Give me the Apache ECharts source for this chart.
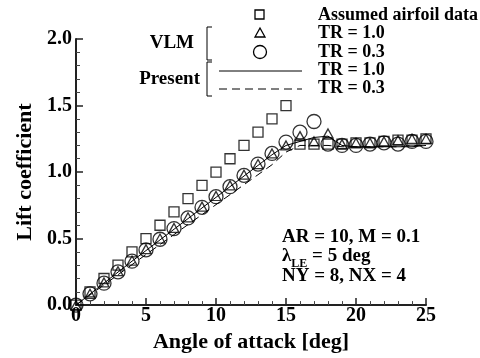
<!DOCTYPE html>
<html>
<head>
<meta charset="utf-8">
<script src="https://cdn.jsdelivr.net/npm/echarts@6/dist/echarts.min.js"></script>
<style>
  html, body { margin: 0; padding: 0; background: #fff; }
  #chart { width: 480px; height: 358px; }
</style>
</head>
<body>
<div id="chart"></div>
<script>
// angle of attack [deg]
var alpha = [0, 1, 2, 3, 4, 5, 6, 7, 8, 9, 10, 11, 12, 13, 14, 15, 16, 17, 18, 19, 20, 21, 22, 23, 24, 25];

// assumed airfoil data (squares)
var airfoil = [0, 0.1, 0.2, 0.3, 0.4, 0.5, 0.6, 0.7, 0.8, 0.9, 1.0, 1.1, 1.2, 1.3, 1.4, 1.5,
    1.21, 1.21, 1.21, 1.21, 1.22, 1.22, 1.23, 1.24, 1.24, 1.25];
// VLM TR = 1.0 (triangles)
var vlmTR10 = [0, 0.085, 0.17, 0.255, 0.335, 0.42, 0.5, 0.58, 0.66, 0.74, 0.82, 0.9, 0.98, 1.06, 1.14, 1.2,
    1.27, 1.23, 1.29, 1.21, 1.22, 1.22, 1.23, 1.24, 1.25, 1.25];
// VLM TR = 0.3 (circles)
var vlmTR03 = [0, 0.085, 0.165, 0.25, 0.33, 0.415, 0.495, 0.575, 0.655, 0.735, 0.815, 0.89, 0.975, 1.06, 1.14, 1.225,
    1.3, 1.38, 1.21, 1.2, 1.2, 1.21, 1.22, 1.21, 1.23, 1.23];
// Present TR = 1.0 (solid)
var presTR10 = [0, 0.083, 0.165, 0.248, 0.33, 0.41, 0.49, 0.57, 0.65, 0.73, 0.81, 0.89, 0.97, 1.05, 1.13, 1.2,
    1.23, 1.26, 1.27, 1.2, 1.19, 1.19, 1.19, 1.19, 1.19, 1.2];
// Present TR = 0.3 (dashed)
var presTR03 = [0, 0.076, 0.152, 0.228, 0.304, 0.38, 0.455, 0.53, 0.605, 0.68, 0.755, 0.83, 0.905, 0.98, 1.055, 1.15,
    1.2, 1.2, 1.2, 1.19, 1.19, 1.19, 1.19, 1.19, 1.2, 1.2];

var xTicks = [0, 5, 10, 15, 20, 25];
var yTicks = [0.0, 0.5, 1.0, 1.5, 2.0];

var font = 'Liberation Serif';

function pairs(ys) {
    var out = [];
    for (var i = 0; i < alpha.length; i++) {
        out.push([alpha[i], ys[i]]);
    }
    return out;
}

var chart = echarts.init(document.getElementById('chart'));

function bold(size) {
    return { fontFamily: font, fontWeight: 'bold', fontSize: size, fill: '#000' };
}

function label(x, y, s, size) {
    return { type: 'text', left: x, top: y, style: Object.assign({ text: s }, bold(size)) };
}

var hollow = { color: 'rgba(0,0,0,0)', borderColor: '#000', borderWidth: 1.3 };

var option = {
    animation: false,
    backgroundColor: '#fff',
    grid: { left: 76, right: 54, top: 39, bottom: 43 },
    xAxis: {
        type: 'value',
        min: xTicks[0],
        max: xTicks[xTicks.length - 1],
        interval: 5,
        name: 'Angle of attack [deg]',
        nameLocation: 'middle',
        nameGap: 17,
        nameTextStyle: { fontFamily: font, fontWeight: 'bold', fontSize: 22, color: '#000' },
        axisLine: { lineStyle: { color: '#222', width: 2 } },
        axisTick: { inside: true, length: 7, lineStyle: { color: '#222', width: 1.5 } },
        minorTick: { show: true, splitNumber: 5, length: 4, lineStyle: { color: '#444', width: 1 } },
        splitLine: { show: false },
        axisLabel: { margin: 1, fontFamily: font, fontWeight: 'bold', fontSize: 20, color: '#000' }
    },
    yAxis: {
        type: 'value',
        min: yTicks[0],
        max: yTicks[yTicks.length - 1],
        interval: 0.5,
        name: 'Lift coefficient',
        nameLocation: 'middle',
        nameGap: 40,
        nameTextStyle: { fontFamily: font, fontWeight: 'bold', fontSize: 22, color: '#000' },
        axisLine: { show: true, lineStyle: { color: '#222', width: 2 } },
        axisTick: { show: true, inside: true, length: 7, lineStyle: { color: '#222', width: 1.5 } },
        minorTick: { show: true, splitNumber: 5, length: 4, lineStyle: { color: '#444', width: 1 } },
        splitLine: { show: false },
        axisLabel: {
            margin: 4, fontFamily: font, fontWeight: 'bold', fontSize: 20, color: '#000',
            formatter: function (v) { return v.toFixed(1); }
        }
    },
    series: [
        {
            name: 'Present TR = 1.0', type: 'line', data: pairs(presTR10), showSymbol: false,
            lineStyle: { color: '#000', width: 1 }, z: 2
        },
        {
            name: 'Present TR = 0.3', type: 'line', data: pairs(presTR03), showSymbol: false,
            lineStyle: { color: '#000', width: 1, type: [8, 5] }, z: 2
        },
        {
            name: 'Assumed airfoil data', type: 'scatter', data: pairs(airfoil), symbol: 'rect', symbolSize: 10,
            itemStyle: hollow, z: 3
        },
        {
            name: 'VLM TR = 1.0', type: 'scatter', data: pairs(vlmTR10), symbol: 'triangle', symbolSize: [10, 9],
            itemStyle: hollow, z: 3
        },
        {
            name: 'VLM TR = 0.3', type: 'scatter', data: pairs(vlmTR03), symbol: 'circle', symbolSize: 14,
            itemStyle: hollow, z: 3
        }
    ],
    graphic: [
        // legend symbols
        { type: 'rect', shape: { x: 255, y: 10, width: 9, height: 9 }, style: { fill: 'none', stroke: '#000', lineWidth: 1.3 } },
        { type: 'polygon', shape: { points: [[260, 28], [255, 37], [265, 37]] }, style: { fill: 'none', stroke: '#000', lineWidth: 1.3 } },
        { type: 'circle', shape: { cx: 260, cy: 52, r: 6.5 }, style: { fill: 'none', stroke: '#000', lineWidth: 1.3 } },
        { type: 'line', shape: { x1: 219, y1: 71, x2: 302, y2: 71 }, style: { stroke: '#000', lineWidth: 1 } },
        { type: 'line', shape: { x1: 219, y1: 89, x2: 302, y2: 89 }, style: { stroke: '#000', lineWidth: 1, lineDash: [8, 5] } },
        // brackets
        { type: 'polyline', shape: { points: [[212, 27], [207, 27], [207, 60], [212, 60]] }, style: { fill: 'none', stroke: '#000', lineWidth: 1 } },
        { type: 'polyline', shape: { points: [[212, 62], [207, 62], [207, 96], [212, 96]] }, style: { fill: 'none', stroke: '#000', lineWidth: 1 } },
        // legend texts
        label(318, 6, 'Assumed airfoil data', 18),
        label(318, 24, 'TR = 1.0', 18),
        label(318, 43, 'TR = 0.3', 18),
        label(318, 61, 'TR = 1.0', 18),
        label(318, 79, 'TR = 0.3', 18),
        { type: 'text', right: 480 - 194, top: 34, style: Object.assign({ text: 'VLM', textAlign: 'right' }, bold(19)) },
        { type: 'text', right: 480 - 200, top: 70, style: Object.assign({ text: 'Present', textAlign: 'right' }, bold(19)) },
        // case annotation
        label(282, 228, 'AR = 10, M = 0.1', 19),
        {
            type: 'text', left: 282, top: 247,
            style: {
                text: '{a|λ}{s|LE}{a| = 5 deg}',
                rich: {
                    a: { fontFamily: font, fontWeight: 'bold', fontSize: 19, fill: '#000', verticalAlign: 'top' },
                    s: { fontFamily: font, fontWeight: 'bold', fontSize: 12, fill: '#000', padding: [11, 0, 0, 0], verticalAlign: 'top' }
                }
            }
        },
        label(282, 267, 'NY = 8, NX = 4', 19)
    ]
};

chart.setOption(option);
</script>
</body>
</html>
